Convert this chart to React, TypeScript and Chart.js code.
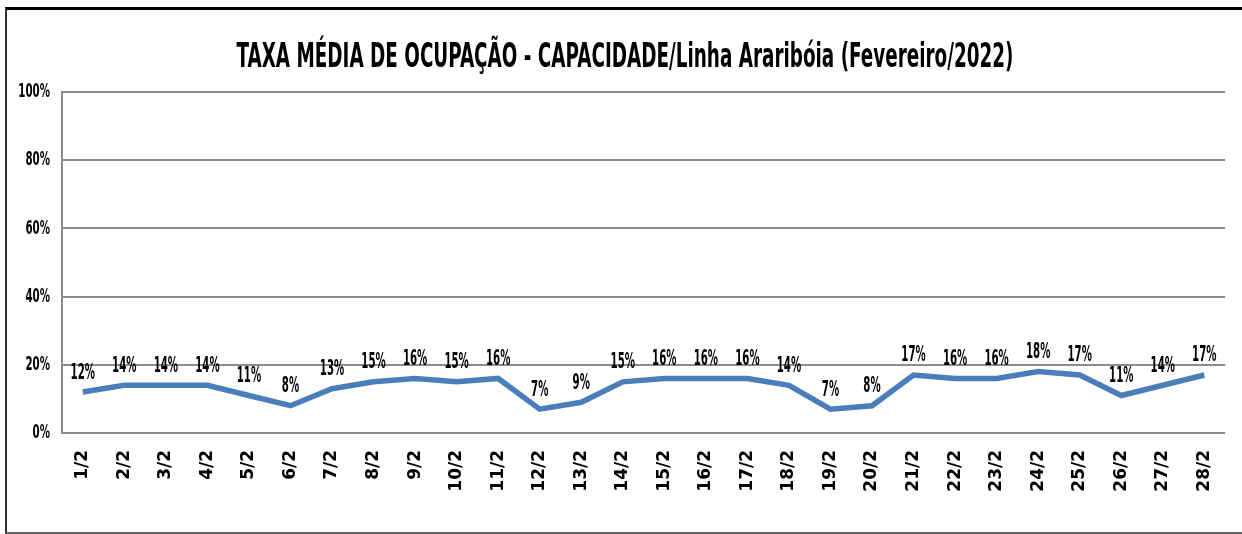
import React, { useEffect, useRef } from "react";
import { Chart, registerables } from "chart.js";

Chart.register(...registerables);

const TITLE = "TAXA MÉDIA DE OCUPAÇÃO - CAPACIDADE/Linha Araribóia (Fevereiro/2022)";
const categories = [
  "1/2", "2/2", "3/2", "4/2", "5/2", "6/2", "7/2", "8/2", "9/2", "10/2",
  "11/2", "12/2", "13/2", "14/2", "15/2", "16/2", "17/2", "18/2", "19/2", "20/2",
  "21/2", "22/2", "23/2", "24/2", "25/2", "26/2", "27/2", "28/2",
];
const occupancy = [
  12, 14, 14, 14, 11, 8, 13, 15, 16, 15,
  16, 7, 9, 15, 16, 16, 16, 14, 7, 8,
  17, 16, 16, 18, 17, 11, 14, 17,
];
const yTicks = [0, 20, 40, 60, 80, 100];

const NARROW = "'DejaVu Sans Condensed', 'Liberation Sans Narrow', sans-serif";
const WIDE = "'DejaVu Sans', sans-serif";

const titlePlugin = {
  id: "customTitle",
  afterDraw(chart: any) {
    const ctx = chart.ctx;
    ctx.save();
    ctx.fillStyle = "#000";
    ctx.font = `bold 34px ${NARROW}`;
    ctx.textAlign = "center";
    ctx.textBaseline = "middle";
    const cx = chart.width / 2 + 4;
    ctx.translate(cx, 58);
    const w = ctx.measureText(TITLE).width;
    ctx.scale(777 / w, 1);
    ctx.fillText(TITLE, 0, 0);
    ctx.restore();
  },
};

// Narrow (condensed) y-axis tick labels drawn from the y scale's own ticks
const yLabelPlugin = {
  id: "yLabels",
  afterDraw(chart: any) {
    const ctx = chart.ctx;
    const y = chart.scales.y;
    ctx.save();
    ctx.fillStyle = "#000";
    ctx.font = `bold 20px ${NARROW}`;
    ctx.textAlign = "right";
    ctx.textBaseline = "middle";
    y.ticks.forEach((t: any) => {
      const py = y.getPixelForValue(t.value);
      ctx.save();
      ctx.translate(y.right - 12, py);
      ctx.scale(0.57, 1);
      ctx.fillText(`${t.value}%`, 0, 0);
      ctx.restore();
    });
    ctx.restore();
  },
};

const labelPlugin = {
  id: "pointLabels",
  afterDatasetsDraw(chart: any) {
    const ctx = chart.ctx;
    const meta = chart.getDatasetMeta(0);
    const data = chart.data.datasets[0].data as number[];
    ctx.save();
    ctx.fillStyle = "#000";
    ctx.font = `bold 21px ${NARROW}`;
    ctx.textAlign = "center";
    ctx.textBaseline = "middle";
    meta.data.forEach((pt: any, i: number) => {
      ctx.save();
      ctx.translate(pt.x, pt.y - 19);
      ctx.scale(0.54, 1);
      ctx.fillText(`${data[i]}%`, 0, 0);
      ctx.restore();
    });
    ctx.restore();
  },
};

export default function App() {
  const ref = useRef<HTMLCanvasElement | null>(null);
  useEffect(() => {
    document.body.style.margin = "0";
    const canvas = ref.current!;
    const chart = new Chart(canvas, {
      type: "line",
      data: {
        labels: categories,
        datasets: [
          {
            data: occupancy,
            borderColor: "#4a7ebb",
            borderWidth: 5.5,
            pointRadius: 0,
            tension: 0,
            fill: false,
          },
        ],
      },
      options: {
        animation: false,
        responsive: false,
        maintainAspectRatio: false,
        layout: { padding: { top: 92, right: 15, left: 0, bottom: 0 } },
        plugins: {
          legend: { display: false },
          title: { display: false },
          tooltip: { enabled: false },
        },
        scales: {
          x: {
            offset: true,
            grid: { display: false, drawTicks: false },
            border: { display: false },
            ticks: {
              minRotation: 90,
              maxRotation: 90,
              autoSkip: false,
              padding: 17,
              color: "#000",
              font: { family: WIDE, size: 17, weight: "bold" },
            },
            afterFit(scale: any) {
              scale.height = 101;
            },
          },
          y: {
            min: 0,
            max: 100,
            afterBuildTicks(scale: any) {
              scale.ticks = yTicks.map((v) => ({ value: v }));
            },
            grid: { color: "#8c8c8c", lineWidth: 2, drawTicks: false },
            border: { display: true, color: "#8c8c8c", width: 2 },
            ticks: { display: false },
            afterFit(scale: any) {
              scale.width = 62;
            },
          },
        },
      },
      plugins: [titlePlugin, yLabelPlugin, labelPlugin],
    });
    return () => chart.destroy();
  }, []);

  return (
    <div style={{ position: "relative", width: 1242, height: 534, background: "#fff" }}>
      <div
        style={{
          position: "absolute",
          left: 5,
          top: 7,
          width: 1250,
          height: 522,
          borderTop: "3px solid #000",
          borderLeft: "2px solid #333",
          borderBottom: "2px solid #666",
        }}
      />
      <canvas
        ref={ref}
        width={1242}
        height={534}
        style={{ position: "absolute", left: 0, top: 0 }}
      />
    </div>
  );
}
